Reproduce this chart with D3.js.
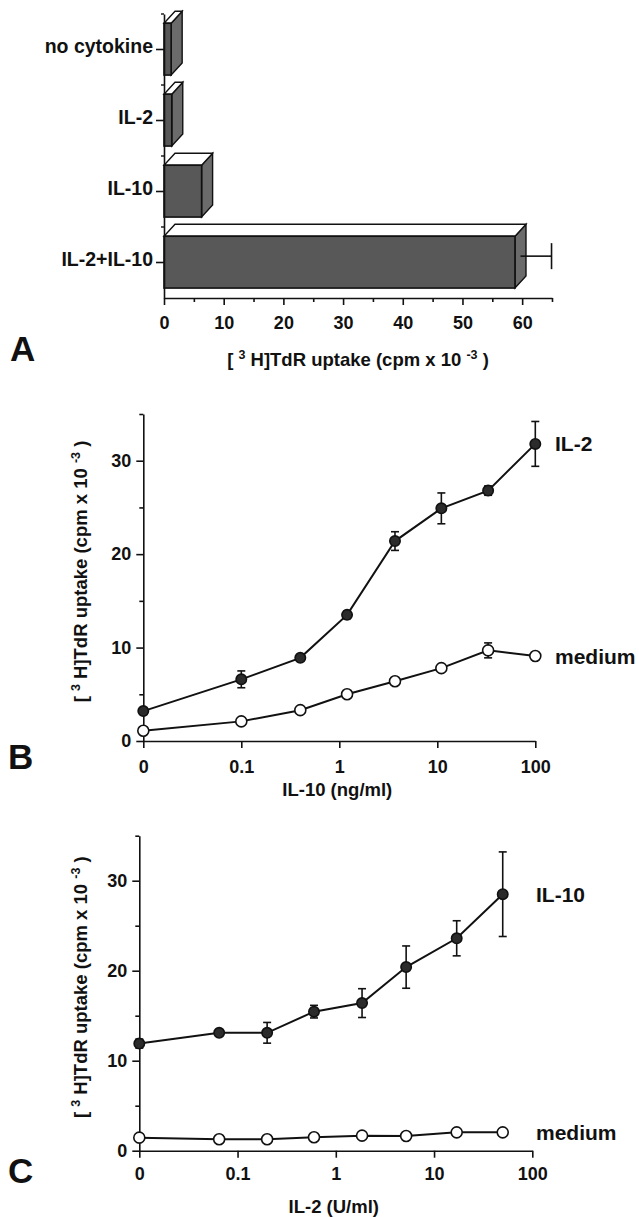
<!DOCTYPE html>
<html>
<head>
<meta charset="utf-8">
<script src="https://cdn.jsdelivr.net/npm/d3@7"></script>
<style>
  body { margin: 0; background: #fff; }
  svg { display: block; font-family: 'Liberation Sans', Arial, sans-serif; }
  .tick text { font-weight: bold; font-size: 18px; fill: #111; }
  .tick line, .domain { stroke: #111; stroke-width: 1.6; }
</style>
</head>
<body>
<svg id="chart"></svg>
<script>
'use strict';
// panel A: bars
const A_CATEGORIES = ['no cytokine', 'IL-2', 'IL-10', 'IL-2+IL-10'];
const A_VALUES = [1.2, 1.3, 6.3, 58.8];
const A_ERRORS = [0, 0, 0, 5.2];
const A_TICKS = [0, 10, 20, 30, 40, 50, 60];
const A_MINOR = [5, 15, 25, 35, 45, 55, 65];

// panel B: IL-10 titration
const B_DOSES = [0, 0.1, 0.4, 1.2, 3.7, 11, 33, 100];
const B_IL2 = [3.2, 6.6, 8.9, 13.5, 21.4, 24.9, 26.8, 31.8];
const B_IL2_ERR = [0.3, 0.9, 0.3, 0.4, 1.0, 1.65, 0.5, 2.4];
const B_MEDIUM = [1.1, 2.1, 3.3, 5.0, 6.4, 7.8, 9.7, 9.1];
const B_MEDIUM_ERR = [0, 0, 0, 0, 0, 0, 0.8, 0];

// panel C: IL-2 titration
const C_DOSES = [0, 0.065, 0.2, 0.6, 1.85, 5.2, 17, 50];
const C_IL10 = [11.9, 13.1, 13.1, 15.45, 16.4, 20.4, 23.6, 28.5];
const C_IL10_ERR = [0.5, 0.3, 1.15, 0.7, 1.6, 2.35, 1.95, 4.7];
const C_MEDIUM = [1.45, 1.27, 1.27, 1.5, 1.67, 1.63, 2.04, 2.04];
const C_MEDIUM_ERR = [0, 0, 0, 0, 0, 0, 0, 0];

const LOG_TICKS = [0, 0.1, 1, 10, 100];
const Y_TICKS = [0, 10, 20, 30];
const Y_MINOR = [5, 15, 25, 35];

const svg = d3.select('#chart').attr('width', 639).attr('height', 1217);

// zero dose is drawn one decade below 0.1
const toLog = (d) => (d === 0 ? 0.01 : d);

function uptakeText(t) {
  t.attr('font-weight', 'bold').attr('font-size', 18.5).attr('fill', '#111');
  t.append('tspan').text('[ ');
  t.append('tspan').attr('font-size', 12.5).attr('dy', -7).text('3');
  t.append('tspan').attr('dy', 7).text(' H]TdR uptake (cpm x 10 ');
  t.append('tspan').attr('font-size', 12.5).attr('dy', -7).text('-3');
  t.append('tspan').attr('dy', 7).text(' )');
  return t;
}

function panelLetter(text, x, y) {
  svg
    .append('text')
    .attr('x', x)
    .attr('y', y)
    .attr('font-size', 35)
    .attr('font-weight', 'bold')
    .attr('fill', '#111')
    .text(text);
}

function plainTitle(text, x, y) {
  svg
    .append('text')
    .attr('x', x)
    .attr('y', y)
    .attr('text-anchor', 'middle')
    .attr('font-weight', 'bold')
    .attr('font-size', 18.5)
    .attr('fill', '#111')
    .text(text);
}

// ---------- Panel A ----------
function drawPanelA() {
  let x = d3.scaleLinear().domain([0, 65]).range([164, 552]);
  let y = d3.scaleBand().domain(A_CATEGORIES).range([14, 298]);
  let g = svg.append('g');
  let dx = 11,
    dy = 12;
  let bw = y.bandwidth();

  let bars = A_CATEGORIES.map((cat, i) => ({
    cat,
    value: A_VALUES[i],
    err: A_ERRORS[i],
  }));

  let bar = g
    .selectAll('.bar')
    .data(bars)
    .enter()
    .append('g')
    .attr('class', 'bar');

  bar.each(function (d) {
    let sel = d3.select(this);
    let x0 = x(0),
      x1 = x(d.value),
      y0 = y(d.cat) + bw * 0.13,
      h = bw * 0.73;
    // side face
    sel
      .append('path')
      .attr('d', `M${x1},${y0}L${x1 + dx},${y0 - dy}L${x1 + dx},${y0 - dy + h}L${x1},${y0 + h}Z`)
      .attr('fill', '#6b6b6b')
      .attr('stroke', '#111')
      .attr('stroke-width', 1.4);
    // top face
    sel
      .append('path')
      .attr('d', `M${x0},${y0}L${x1},${y0}L${x1 + dx},${y0 - dy}L${x0 + dx},${y0 - dy}Z`)
      .attr('fill', '#fff')
      .attr('stroke', '#111')
      .attr('stroke-width', 1.4);
    // front face
    sel
      .append('rect')
      .attr('x', x0)
      .attr('y', y0)
      .attr('width', x1 - x0)
      .attr('height', h)
      .attr('fill', '#585858')
      .attr('stroke', '#111')
      .attr('stroke-width', 1.6);

    if (d.err > 0) {
      let ym = y0 + h / 2 - dy / 2;
      let xe = x(d.value + d.err) + dx / 2;
      sel
        .append('line')
        .attr('x1', x1 + dx / 2)
        .attr('x2', xe)
        .attr('y1', ym)
        .attr('y2', ym)
        .attr('stroke', '#111')
        .attr('stroke-width', 1.6);
      sel
        .append('line')
        .attr('x1', xe)
        .attr('x2', xe)
        .attr('y1', ym - 13)
        .attr('y2', ym + 13)
        .attr('stroke', '#111')
        .attr('stroke-width', 1.6);
    }
  });

  // category axis
  let yAxis = g
    .append('g')
    .attr('transform', `translate(${x(0)},0)`)
    .call(d3.axisLeft(y).tickSize(8).tickSizeOuter(0).tickPadding(3));
  yAxis.selectAll('.tick text').style('font-size', '19.5px').attr('dy', '0.2em');
  g.selectAll('.minorA')
    .data(A_CATEGORIES)
    .enter()
    .append('line')
    .attr('x1', x(0) - 3)
    .attr('x2', x(0))
    .attr('y1', (d) => y(d))
    .attr('y2', (d) => y(d))
    .attr('stroke', '#111')
    .attr('stroke-width', 1.4);

  // value axis
  g.append('g')
    .attr('transform', 'translate(0,298)')
    .call(d3.axisBottom(x).tickValues(A_TICKS).tickSize(7).tickSizeOuter(0).tickPadding(11));
  g.append('g')
    .attr('transform', 'translate(0,298)')
    .call(d3.axisBottom(x).tickValues(A_MINOR).tickSize(4).tickFormat(''))
    .call((s) => s.select('.domain').remove());

  uptakeText(g.append('text').attr('x', 358).attr('y', 366).attr('text-anchor', 'middle'));

  panelLetter('A', 10, 361);
}

// ---------- Panels B & C ----------
function drawDosePanel(opts) {
  let x = d3.scaleLog().domain([0.01, 100]).range(opts.xRange);
  let y = d3.scaleLinear().domain([0, 35]).range(opts.yRange);
  let g = svg.append('g');
  let x0 = opts.xRange[0],
    y0 = opts.yRange[0];

  g.append('g')
    .attr('transform', `translate(${x0},0)`)
    .call(d3.axisLeft(y).tickValues(Y_TICKS).tickSize(7).tickSizeOuter(0).tickPadding(5));
  g.append('g')
    .attr('transform', `translate(${x0},0)`)
    .call(d3.axisLeft(y).tickValues(Y_MINOR).tickSize(4).tickFormat(''))
    .call((s) => s.select('.domain').remove());
  g.append('g')
    .attr('transform', `translate(0,${y0})`)
    .call(
      d3
        .axisBottom(x)
        .tickValues(LOG_TICKS.map(toLog))
        .tickFormat((d, i) => String(LOG_TICKS[i]))
        .tickSize(7)
        .tickSizeOuter(0)
        .tickPadding(opts.xPad)
    );

  let line = d3
    .line()
    .x((d) => x(toLog(d.dose)))
    .y((d) => y(d.v));

  opts.series.forEach((s) => {
    let pts = opts.doses.map((dose, i) => ({ dose, v: s.values[i], e: s.errors[i] }));
    g.append('path')
      .datum(pts)
      .attr('d', line)
      .attr('fill', 'none')
      .attr('stroke', '#111')
      .attr('stroke-width', 2);

    let eb = g
      .selectAll(null)
      .data(pts.filter((p) => p.e > 0))
      .enter()
      .append('g')
      .attr('stroke', '#111')
      .attr('stroke-width', 1.6);
    eb.append('line')
      .attr('x1', (d) => x(toLog(d.dose)))
      .attr('x2', (d) => x(toLog(d.dose)))
      .attr('y1', (d) => y(d.v - d.e))
      .attr('y2', (d) => y(d.v + d.e));
    [-1, 1].forEach((sgn) =>
      eb
        .append('line')
        .attr('x1', (d) => x(toLog(d.dose)) - 4)
        .attr('x2', (d) => x(toLog(d.dose)) + 4)
        .attr('y1', (d) => y(d.v + sgn * d.e))
        .attr('y2', (d) => y(d.v + sgn * d.e))
    );

    g.selectAll(null)
      .data(pts)
      .enter()
      .append('circle')
      .attr('cx', (d) => x(toLog(d.dose)))
      .attr('cy', (d) => y(d.v))
      .attr('r', s.filled ? 5.2 : 5.5)
      .attr('fill', s.filled ? '#2b2b2b' : '#fff')
      .attr('stroke', '#111')
      .attr('stroke-width', 1.6);

    g.append('text')
      .attr('x', opts.labelX)
      .attr('y', y(s.values[s.values.length - 1]))
      .attr('dy', '0.36em')
      .attr('font-weight', 'bold')
      .attr('font-size', 21)
      .attr('fill', '#111')
      .text(s.name);
  });

  let cy = (opts.yRange[0] + opts.yRange[1]) / 2 - 6;
  uptakeText(
    g.append('text').attr('transform', `translate(87,${cy}) rotate(-90)`).attr('text-anchor', 'middle')
  );
  plainTitle(opts.xTitle, (opts.xRange[0] + opts.xRange[1]) / 2 - 2, opts.titleY);
  panelLetter(opts.letter, 8, opts.letterY);
}

drawPanelA();

drawDosePanel({
  xRange: [143.3, 535.3],
  yRange: [741, 414],
  xPad: 12,
  doses: B_DOSES,
  series: [
    { name: 'IL-2', values: B_IL2, errors: B_IL2_ERR, filled: true },
    { name: 'medium', values: B_MEDIUM, errors: B_MEDIUM_ERR, filled: false },
  ],
  labelX: 555,
  xTitle: 'IL-10 (ng/ml)',
  titleY: 796,
  letter: 'B',
  letterY: 769,
});

drawDosePanel({
  xRange: [139.3, 532.3],
  yRange: [1150.7, 835.7],
  xPad: 10,
  doses: C_DOSES,
  series: [
    { name: 'IL-10', values: C_IL10, errors: C_IL10_ERR, filled: true },
    { name: 'medium', values: C_MEDIUM, errors: C_MEDIUM_ERR, filled: false },
  ],
  labelX: 536,
  xTitle: 'IL-2 (U/ml)',
  titleY: 1213,
  letter: 'C',
  letterY: 1183,
});
</script>
</body>
</html>
